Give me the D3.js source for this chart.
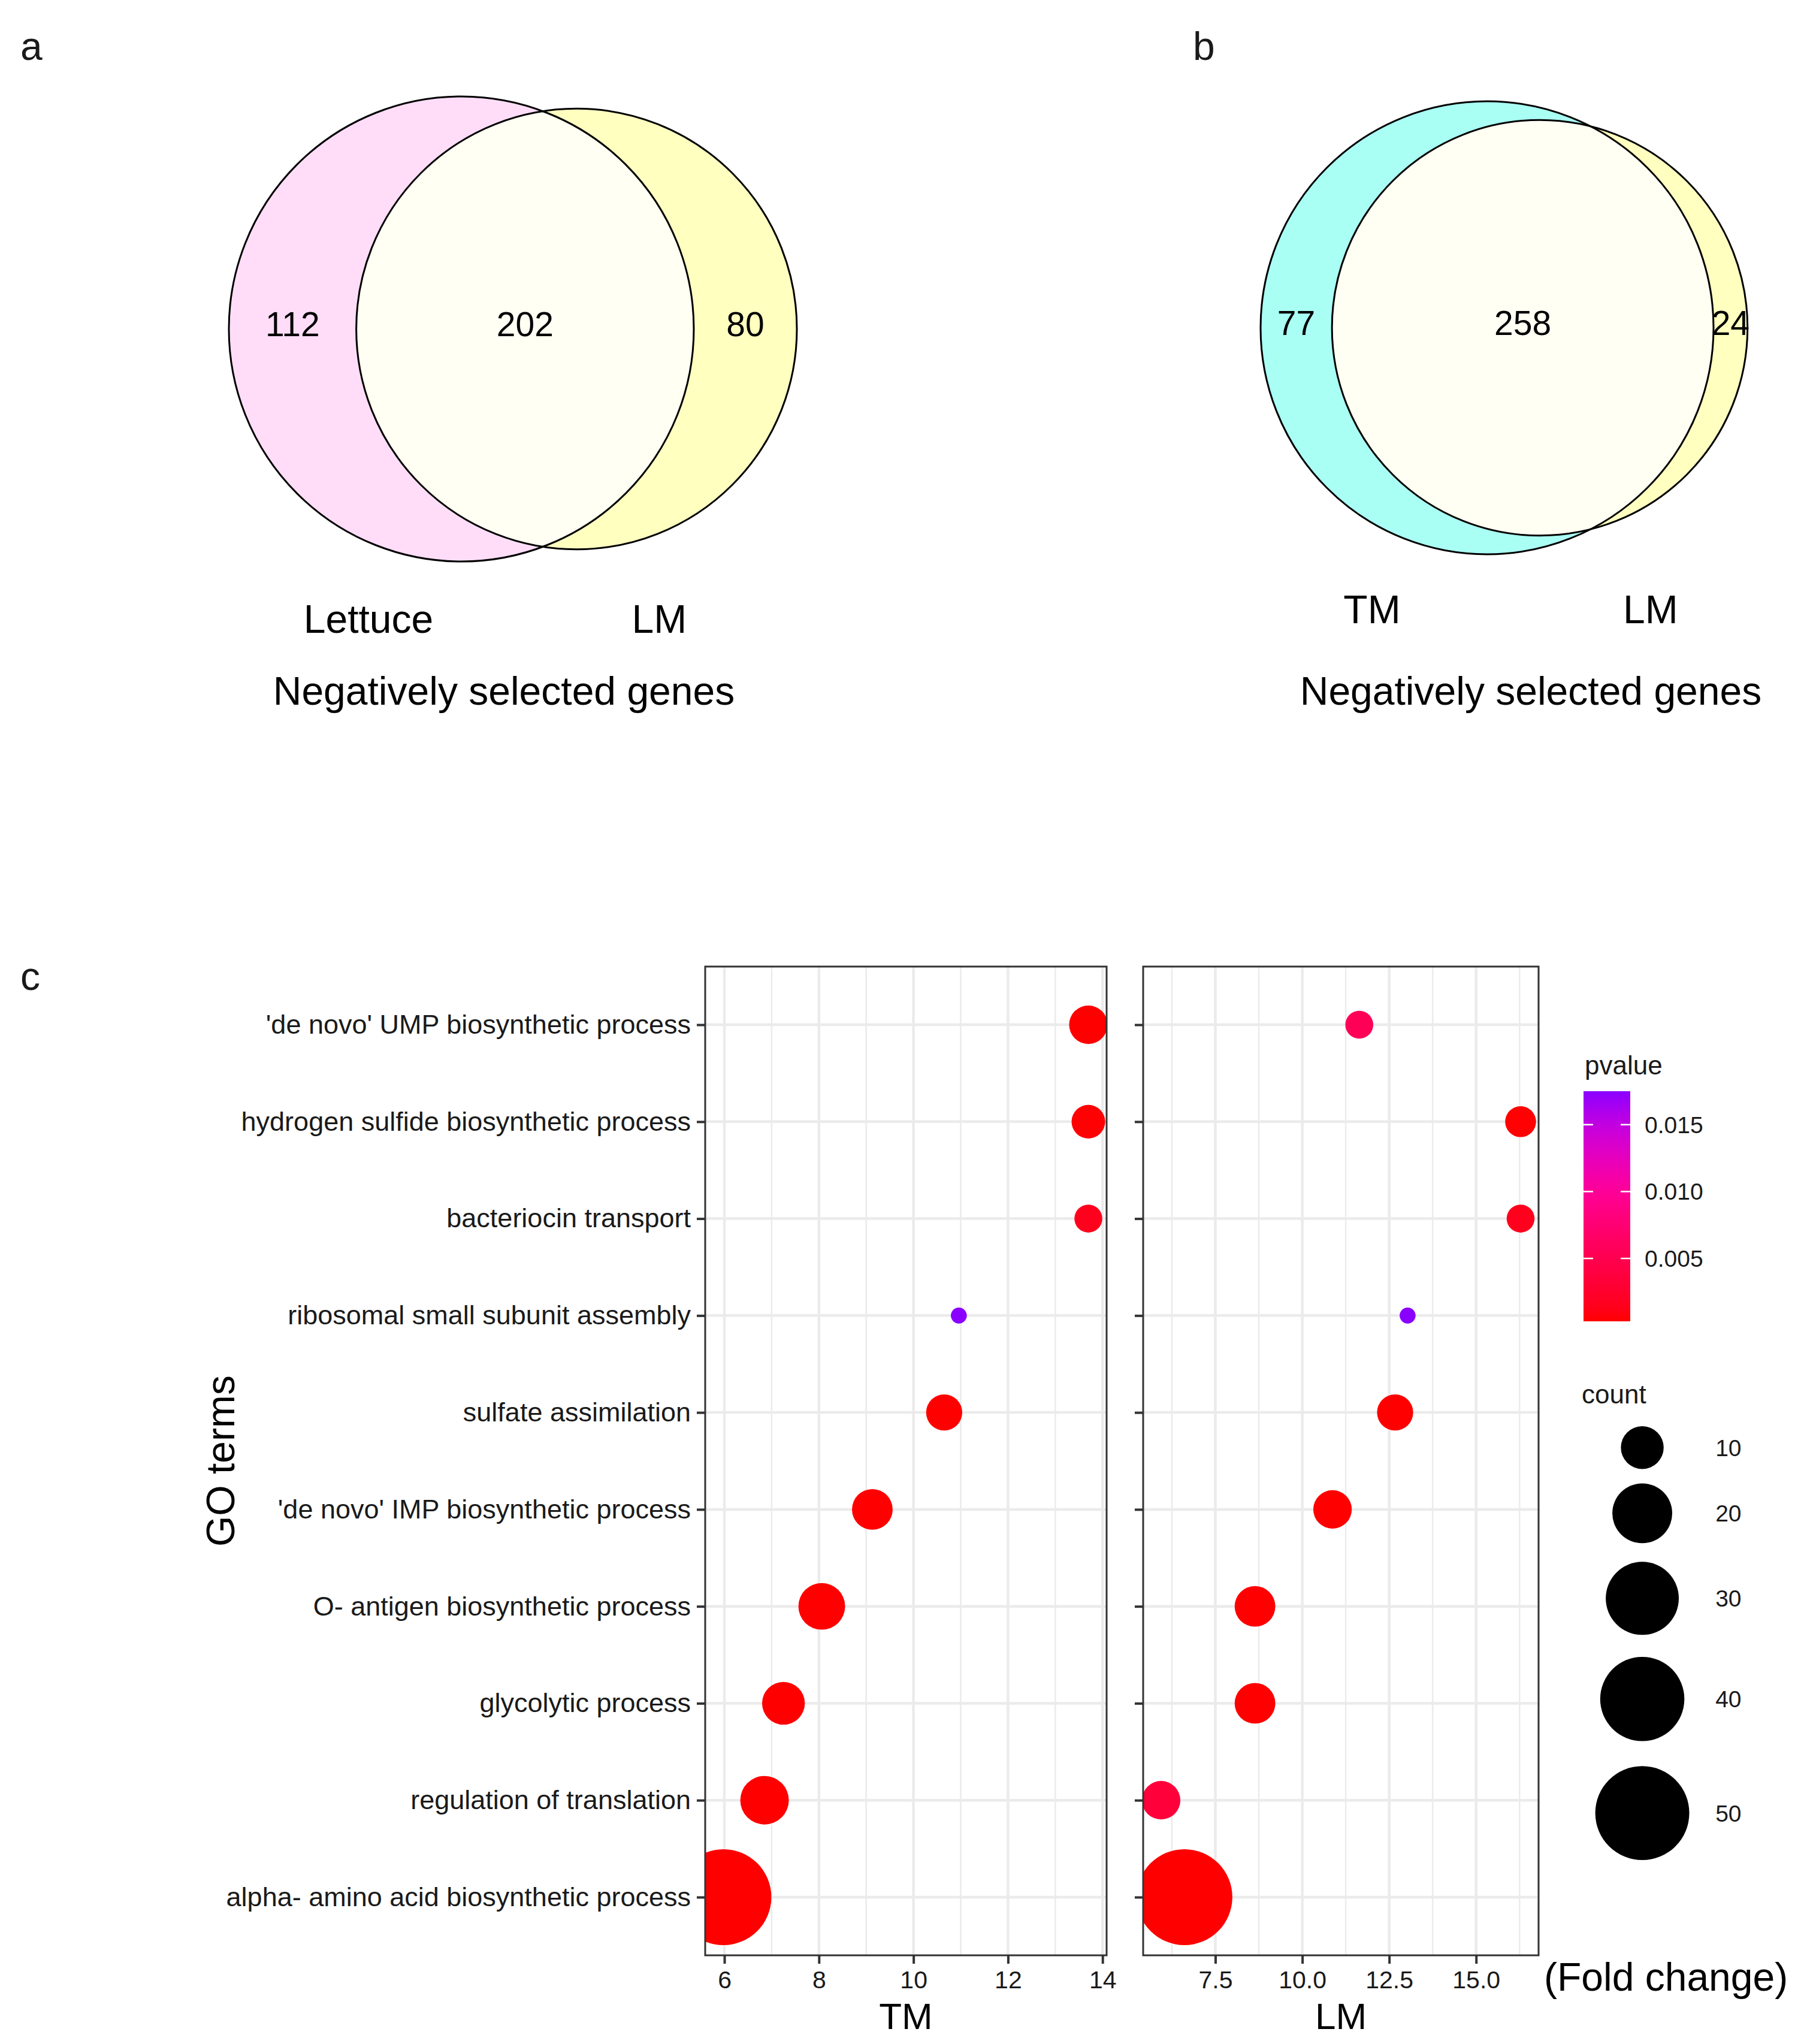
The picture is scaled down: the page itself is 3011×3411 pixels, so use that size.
<!DOCTYPE html>
<html>
<head>
<meta charset="utf-8">
<script src="https://cdn.jsdelivr.net/npm/d3@7"></script>
<style>
  body { margin: 0; background: #fff; }
  svg { display: block; }
</style>
</head>
<body>
<script>
// ---- data ----
var vennASets = ["Lettuce", "LM"];
var vennACounts = [112, 202, 80];   // only first, shared, only second
var vennBSets = ["TM", "LM"];
var vennBCounts = [77, 258, 24];

var goTerms = [
    "'de novo' UMP biosynthetic process",
    "hydrogen sulfide biosynthetic process",
    "bacteriocin transport",
    "ribosomal small subunit assembly",
    "sulfate assimilation",
    "'de novo' IMP biosynthetic process",
    "O- antigen biosynthetic process",
    "glycolytic process",
    "regulation of translation",
    "alpha- amino acid biosynthetic process"
];
var tmFold = [13.70, 13.70, 13.70, 10.96, 10.65, 9.13, 8.06, 7.25, 6.85, 5.98];
var tmCount = [8, 6, 4, 1, 7, 9, 12, 10, 13, 52];
var tmPvalue = [0.0003, 0.0004, 0.0015, 0.0175, 0.0003, 0.0003, 0.0003, 0.0003, 0.0003, 0.0003];
var lmFold = [11.64, 16.28, 16.28, 13.03, 12.67, 10.87, 8.64, 8.64, 5.94, 6.61];
var lmCount = [4, 5, 4, 1, 7, 8, 9, 9, 8, 52];
var lmPvalue = [0.0055, 0.0004, 0.0015, 0.0175, 0.0003, 0.0003, 0.0003, 0.0003, 0.0035, 0.0003];

var tmTicks = [6, 8, 10, 12, 14];
var lmTicks = [7.5, 10, 12.5, 15];
var pvalueBreaks = [0.005, 0.010, 0.015];
var countBreaks = [10, 20, 30, 40, 50];

// ---- page ----
var width = 3011, height = 3411;
var font = "'Liberation Sans', Arial, Helvetica, sans-serif";
var ink = "#1A1A1A";

var svg = d3.select("body").append("svg")
    .attr("width", width)
    .attr("height", height)
    .style("font-family", font);
var defs = svg.append("defs");

// panel letters
[["a", 34, 100], ["b", 1991, 100], ["c", 34, 1652]].forEach(function (p) {
    svg.append("text").attr("x", p[1]).attr("y", p[2])
        .style("font-size", "66px").style("fill", ink).text(p[0]);
});

// area of the lens shared by two circles
function lensArea(r1, r2, d) {
    if (d >= r1 + r2) return 0;
    if (d <= Math.abs(r1 - r2)) return Math.PI * Math.pow(Math.min(r1, r2), 2);
    var a1 = r1 * r1 * Math.acos((d * d + r1 * r1 - r2 * r2) / (2 * d * r1));
    var a2 = r2 * r2 * Math.acos((d * d + r2 * r2 - r1 * r1) / (2 * d * r2));
    var a3 = 0.5 * Math.sqrt((-d + r1 + r2) * (d + r1 - r2) * (d - r1 + r2) * (d + r1 + r2));
    return a1 + a2 - a3;
}

// scaled two-set venn; circle areas follow the set sizes
function drawVenn(id, counts, names, o) {
    var total1 = counts[0] + counts[1], total2 = counts[1] + counts[2];
    var rScale = d3.scaleSqrt().domain([0, total1]).range([0, o.r1]);
    var r1 = rScale(total1), r2 = rScale(total2);
    var target = Math.PI * Math.pow(rScale(counts[1]), 2);
    var lo = Math.abs(r1 - r2), hi = r1 + r2;
    for (var i = 0; i < 80; i++) {
        var mid = (lo + hi) / 2;
        if (lensArea(r1, r2, mid) > target) lo = mid; else hi = mid;
    }
    var cx1 = o.cx1, cx2 = o.cx1 + (lo + hi) / 2, cy = o.cy;
    var g = svg.append("g");

    defs.append("clipPath").attr("id", id + "-clip")
        .append("circle").attr("cx", cx1).attr("cy", cy).attr("r", r1);

    g.append("circle").attr("cx", cx1).attr("cy", cy).attr("r", r1).style("fill", o.fills[0]);
    g.append("circle").attr("cx", cx2).attr("cy", cy).attr("r", r2).style("fill", o.fills[1]);
    g.append("circle").attr("cx", cx2).attr("cy", cy).attr("r", r2)
        .attr("clip-path", "url(#" + id + "-clip)").style("fill", o.fills[2]);
    [[cx1, r1], [cx2, r2]].forEach(function (c) {
        g.append("circle").attr("cx", c[0]).attr("cy", cy).attr("r", c[1])
            .style("fill", "none").style("stroke", "#000").style("stroke-width", "3px");
    });

    // region counts sit midway across each region
    var xs = [
        ((cx1 - r1) + (cx2 - r2)) / 2,
        ((cx2 - r2) + (cx1 + r1)) / 2,
        ((cx1 + r1) + (cx2 + r2)) / 2
    ];
    counts.forEach(function (v, k) {
        g.append("text").attr("x", xs[k]).attr("y", cy + 12)
            .attr("text-anchor", "middle").style("font-size", "57px").style("fill", "#000")
            .text(v);
    });
    g.append("text").attr("x", cx1 + o.nameDx[0]).attr("y", o.nameY)
        .attr("text-anchor", "middle").style("font-size", "66px").style("fill", "#000").text(names[0]);
    g.append("text").attr("x", cx2 + o.nameDx[1]).attr("y", o.nameY)
        .attr("text-anchor", "middle").style("font-size", "66px").style("fill", "#000").text(names[1]);
    g.append("text").attr("x", o.titleX).attr("y", 1176)
        .attr("text-anchor", "middle").style("font-size", "66px").style("fill", "#000")
        .text("Negatively selected genes");
}

drawVenn("va", vennACounts, vennASets, {
    cx1: 770, cy: 549, r1: 388,
    fills: ["#FFDDF8", "#FFFFC0", "#FFFFF3"],
    nameDx: [-155, 138], nameY: 1056, titleX: 841
});
drawVenn("vb", vennBCounts, vennBSets, {
    cx1: 2482, cy: 547, r1: 378,
    fills: ["#AAFFF5", "#FFFFC0", "#FFFFF3"],
    nameDx: [-192, 185], nameY: 1040, titleX: 2555
});

// ---- panel c : GO bubble plot ----
var panelTop = 1613, panelBottom = 3263;
var allP = tmPvalue.concat(lmPvalue);
var allCount = tmCount.concat(lmCount);

var colour = d3.scaleLinear()
    .domain(d3.extent(allP))
    .range(["#FF0000", "#8A00FF"])
    .interpolate(d3.interpolateHcl);
var radius = d3.scaleRadial()
    .domain(d3.extent(allCount))
    .range([13.3, 80]);

var y = d3.scalePoint()
    .domain(goTerms)
    .range([panelTop, panelBottom])
    .padding(0.6);

function expand(values) {
    var e = d3.extent(values), pad = (e[1] - e[0]) * 0.05;
    return [e[0] - pad, e[1] + pad];
}

function minorBreaks(ticks, domain) {
    var step = ticks[1] - ticks[0], out = [ticks[0] - step / 2];
    for (var i = 0; i < ticks.length; i++) out.push(ticks[i] + step / 2);
    return out.filter(function (v) { return v >= domain[0] && v <= domain[1]; });
}

function drawPanel(id, left, right, fold, count, pvalue, ticks, fmt, title, showLabels) {
    var x = d3.scaleLinear().domain(expand(fold)).range([left, right]);
    var g = svg.append("g");

    defs.append("clipPath").attr("id", id + "-clip")
        .append("rect").attr("x", left).attr("y", panelTop)
        .attr("width", right - left).attr("height", panelBottom - panelTop);

    g.append("rect").attr("x", left).attr("y", panelTop)
        .attr("width", right - left).attr("height", panelBottom - panelTop)
        .style("fill", "#fff");

    g.selectAll(".minor").data(minorBreaks(ticks, x.domain())).enter().append("line")
        .attr("x1", function (d) { return x(d); }).attr("x2", function (d) { return x(d); })
        .attr("y1", panelTop).attr("y2", panelBottom)
        .style("stroke", "#EBEBEB").style("stroke-width", "2.5px");
    g.selectAll(".vmajor").data(ticks).enter().append("line")
        .attr("x1", function (d) { return x(d); }).attr("x2", function (d) { return x(d); })
        .attr("y1", panelTop).attr("y2", panelBottom)
        .style("stroke", "#EBEBEB").style("stroke-width", "4.5px");
    g.selectAll(".hmajor").data(goTerms).enter().append("line")
        .attr("x1", left).attr("x2", right)
        .attr("y1", function (d) { return y(d); }).attr("y2", function (d) { return y(d); })
        .style("stroke", "#EBEBEB").style("stroke-width", "4.5px");

    g.append("g").attr("clip-path", "url(#" + id + "-clip)")
        .selectAll("circle").data(goTerms).enter().append("circle")
        .attr("cx", function (d, i) { return x(fold[i]); })
        .attr("cy", function (d) { return y(d); })
        .attr("r", function (d, i) { return radius(count[i]); })
        .style("fill", function (d, i) { return colour(pvalue[i]); });

    g.append("rect").attr("x", left).attr("y", panelTop)
        .attr("width", right - left).attr("height", panelBottom - panelTop)
        .style("fill", "none").style("stroke", "#333333").style("stroke-width", "3px");

    var xAxis = g.append("g")
        .attr("transform", "translate(0," + panelBottom + ")")
        .call(d3.axisBottom(x).tickValues(ticks).tickFormat(fmt).tickSize(14).tickPadding(12));
    var yAxis = g.append("g")
        .attr("transform", "translate(" + left + ",0)")
        .call(d3.axisLeft(y).tickSize(14).tickPadding(10));
    if (!showLabels) yAxis.selectAll("text").remove();

    [xAxis, yAxis].forEach(function (a) {
        a.attr("font-family", null).attr("font-size", null);
        a.select(".domain").remove();
        a.selectAll(".tick line").style("stroke", "#333333").style("stroke-width", "4px");
        a.selectAll(".tick text").style("fill", ink).style("font-family", font);
    });
    xAxis.selectAll(".tick text").style("font-size", "41px");
    yAxis.selectAll(".tick text").style("font-size", "45px");

    g.append("text").attr("x", (left + right) / 2).attr("y", 3386)
        .attr("text-anchor", "middle").style("font-size", "62px").style("fill", "#000")
        .text(title);
}

drawPanel("tm", 1177, 1847, tmFold, tmCount, tmPvalue, tmTicks, d3.format("d"), "TM", true);
drawPanel("lm", 1908, 2568, lmFold, lmCount, lmPvalue, lmTicks, d3.format(".1f"), "LM", false);

svg.append("text")
    .attr("transform", "translate(391," + ((panelTop + panelBottom) / 2) + ") rotate(-90)")
    .attr("text-anchor", "middle").style("font-size", "66px").style("fill", "#000")
    .text("GO terms");
svg.append("text").attr("x", 2577).attr("y", 3322)
    .style("font-size", "66px").style("fill", "#000").text("(Fold change)");

// ---- legends ----
var legLeft = 2643;
svg.append("text").attr("x", legLeft + 2).attr("y", 1793)
    .style("font-size", "44px").style("fill", ink).text("pvalue");

var barTop = 1821, barBottom = 2205, barW = 78;
var bar = d3.scaleLinear().domain(colour.domain()).range([barBottom, barTop]);
var grad = defs.append("linearGradient").attr("id", "pgrad")
    .attr("x1", 0).attr("y1", 1).attr("x2", 0).attr("y2", 0);
d3.range(0, 1.0001, 0.05).forEach(function (t) {
    var v = colour.domain()[0] + t * (colour.domain()[1] - colour.domain()[0]);
    grad.append("stop").attr("offset", t).attr("stop-color", colour(v));
});
svg.append("rect").attr("x", legLeft).attr("y", barTop)
    .attr("width", barW).attr("height", barBottom - barTop)
    .style("fill", "url(#pgrad)");
pvalueBreaks.forEach(function (b) {
    [[legLeft, legLeft + 16], [legLeft + barW - 16, legLeft + barW]].forEach(function (s) {
        svg.append("line").attr("x1", s[0]).attr("x2", s[1])
            .attr("y1", bar(b)).attr("y2", bar(b))
            .style("stroke", "#fff").style("stroke-width", "2.5px");
    });
    svg.append("text").attr("x", legLeft + barW + 24).attr("y", bar(b) + 14)
        .style("font-size", "39px").style("fill", ink).text(d3.format(".3f")(b));
});

svg.append("text").attr("x", legLeft - 3).attr("y", 2342)
    .style("font-size", "44px").style("fill", ink).text("count");
var keyW = 2.5 * radius(countBreaks[countBreaks.length - 1]);
var keyTop = 2370;
countBreaks.forEach(function (b) {
    var h = 2.56 * radius(b), cy = keyTop + h / 2;
    svg.append("circle").attr("cx", legLeft + keyW / 2).attr("cy", cy)
        .attr("r", radius(b)).style("fill", "#000");
    svg.append("text").attr("x", legLeft + keyW + 24).attr("y", cy + 14)
        .style("font-size", "39px").style("fill", ink).text(b);
    keyTop += h;
});
</script>
</body>
</html>
